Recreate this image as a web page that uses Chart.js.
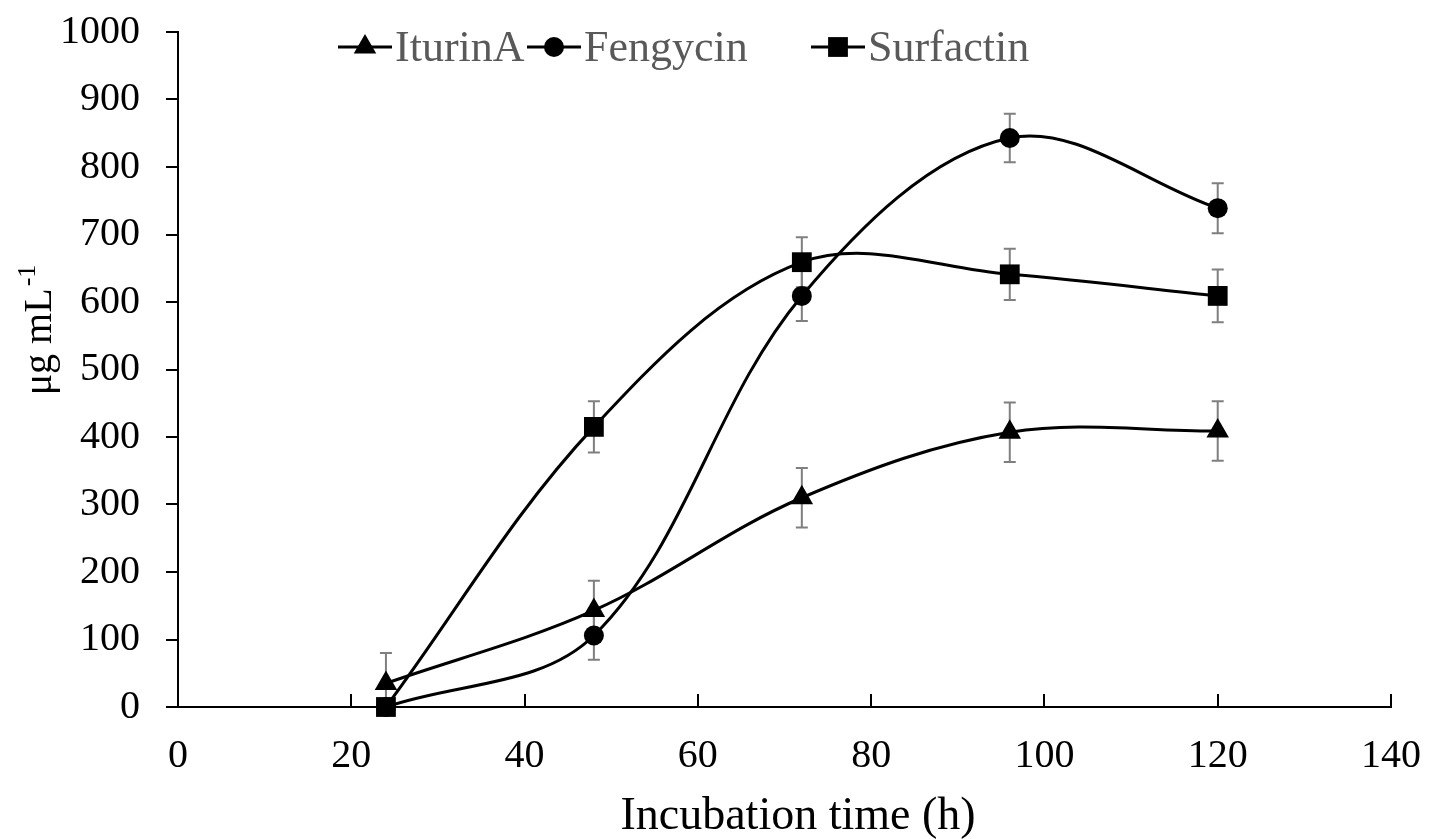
<!DOCTYPE html>
<html>
<head>
<meta charset="utf-8">
<script src="https://cdn.jsdelivr.net/npm/chart.js@4"></script>
<style>
  html, body { margin: 0; padding: 0; background: #fff; }
  #wrap { width: 1429px; height: 839px; }
</style>
</head>
<body>
<div id="wrap"><canvas id="myChart" width="1429" height="839"></canvas></div>
<script>
// data
const hours = [24, 48, 72, 96, 120];
const iturinA = [35, 143, 310, 407, 409];
const fengycin = [0, 106, 609, 843, 739];
const surfactin = [0, 415, 659, 641, 609];
const iturinErr = [45, 44, 44, 44, 44];
const fengycinErr = [0, 36, 37, 36, 37];
const surfactinErr = [0, 38, 37, 38, 39];
const xTicks = [0, 20, 40, 60, 80, 100, 120, 140];
const yTicks = [0, 100, 200, 300, 400, 500, 600, 700, 800, 900, 1000];

const FONT = "'Liberation Serif', 'Times New Roman', serif";

function pts(vals) {
  return hours.map((h, i) => ({ x: h, y: vals[i] }));
}

function makeSet(label, vals, errs, style, radius) {
  return {
    label: label,
    data: pts(vals),
    errors: errs,
    borderColor: '#000',
    backgroundColor: '#000',
    borderWidth: 3,
    pointStyle: style,
    pointRadius: radius,
    pointHoverRadius: radius,
    pointBorderWidth: 0,
    tension: 0.35,
    clip: false
  };
}

// gray error bars, drawn under the markers
const errorBars = {
  id: 'errorBars',
  beforeDatasetsDraw(chart) {
    const ctx = chart.ctx;
    const xs = chart.scales.x, ys = chart.scales.y;
    ctx.save();
    ctx.strokeStyle = '#7f7f7f';
    ctx.lineWidth = 2;
    chart.data.datasets.forEach(ds => {
      ds.data.forEach((p, i) => {
        const e = ds.errors[i];
        if (!e) return;
        const px = xs.getPixelForValue(p.x);
        const top = ys.getPixelForValue(p.y + e);
        const bot = Math.min(ys.getPixelForValue(p.y - e), ys.bottom);
        ctx.beginPath();
        ctx.moveTo(px, top); ctx.lineTo(px, bot);
        ctx.moveTo(px - 6, top); ctx.lineTo(px + 6, top);
        if (bot < ys.bottom) { ctx.moveTo(px - 6, bot); ctx.lineTo(px + 6, bot); }
        ctx.stroke();
      });
    });
    ctx.restore();
  }
};

// inward tick marks on the x axis, titles and the line+marker legend
const decorations = {
  id: 'decorations',
  afterDraw(chart) {
    const ctx = chart.ctx;
    const xs = chart.scales.x, ys = chart.scales.y;
    ctx.save();
    ctx.strokeStyle = '#000';
    ctx.lineWidth = 2;
    ctx.beginPath();
    xTicks.forEach(v => {
      const px = Math.round(xs.getPixelForValue(v));
      ctx.moveTo(px, ys.bottom);
      ctx.lineTo(px, ys.bottom - 13);
    });
    ctx.stroke();

    // x title
    ctx.fillStyle = '#000';
    ctx.font = '46px ' + FONT;
    ctx.textAlign = 'center';
    ctx.textBaseline = 'alphabetic';
    ctx.fillText('Incubation time (h)', 798, 829);

    // y title with superscript
    ctx.save();
    ctx.translate(51, 331);
    ctx.rotate(-Math.PI / 2);
    const main = 'μg mL';
    const sup = '-1';
    ctx.font = '26px ' + FONT;
    const wSup = ctx.measureText(sup).width;
    ctx.font = '40px ' + FONT;
    const wMain = ctx.measureText(main).width;
    const start = -(wMain + wSup) / 2;
    ctx.textAlign = 'left';
    ctx.fillText(main, start, 0);
    ctx.font = '26px ' + FONT;
    ctx.fillText(sup, start + wMain + 2, -16);
    ctx.restore();

    // legend
    const items = [
      { ds: 0, x: 338 },
      { ds: 1, x: 527 },
      { ds: 2, x: 811 }
    ];
    const ly = 47;
    items.forEach(it => {
      const ds = chart.data.datasets[it.ds];
      ctx.strokeStyle = '#000';
      ctx.lineWidth = 3;
      ctx.beginPath();
      ctx.moveTo(it.x, ly); ctx.lineTo(it.x + 54, ly);
      ctx.stroke();
      ctx.fillStyle = '#000';
      Chart.helpers.drawPoint(ctx, {
        pointStyle: ds.pointStyle, radius: ds.pointRadius, rotation: 0, borderWidth: 0
      }, it.x + 27, ly);
      ctx.fillStyle = '#595959';
      ctx.font = '44px ' + FONT;
      ctx.textAlign = 'left';
      ctx.textBaseline = 'middle';
      ctx.fillText(ds.label, it.x + 57, ly + 2);
    });
    ctx.restore();
  }
};

const ctx = document.getElementById('myChart').getContext('2d');
new Chart(ctx, {
  type: 'line',
  data: {
    datasets: [
      makeSet('IturinA', iturinA, iturinErr, 'triangle', 13),
      makeSet('Fengycin', fengycin, fengycinErr, 'circle', 10),
      makeSet('Surfactin', surfactin, surfactinErr, 'rect', 14)
    ]
  },
  options: {
    responsive: false,
    animation: false,
    events: [],
    layout: { padding: { left: 0, right: 38, top: 32, bottom: 0 } },
    plugins: { legend: { display: false }, tooltip: { enabled: false } },
    scales: {
      x: {
        type: 'linear',
        min: 0, max: 140,
        afterBuildTicks: s => { s.ticks = xTicks.map(v => ({ value: v })); },
        afterFit: s => { s.height = 132; s.paddingLeft = 0; s.paddingRight = 0; },
        grid: { drawOnChartArea: false, drawTicks: false },
        border: { color: '#000', width: 2 },
        ticks: { color: '#000', font: { family: FONT, size: 40 }, padding: 25, maxRotation: 0, callback: v => String(v) }
      },
      y: {
        min: 0, max: 1000,
        afterBuildTicks: s => { s.ticks = yTicks.map(v => ({ value: v })); },
        afterFit: s => { s.width = 178; s.paddingTop = 0; s.paddingBottom = 0; },
        grid: { drawOnChartArea: false, drawTicks: true, tickLength: 12, color: '#000', lineWidth: 2 },
        border: { color: '#000', width: 2 },
        ticks: { color: '#000', font: { family: FONT, size: 40 }, padding: 26, callback: v => String(v) }
      }
    }
  },
  plugins: [errorBars, decorations]
});
</script>
</body>
</html>
